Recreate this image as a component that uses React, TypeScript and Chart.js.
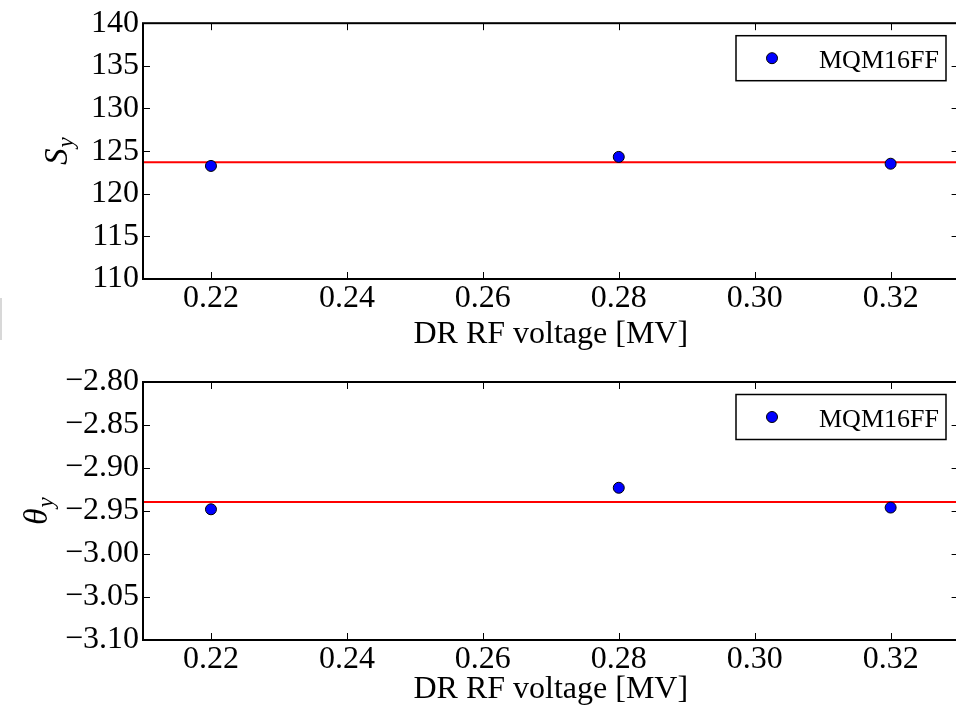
import React, { useEffect, useRef } from "react";
import { Chart, registerables } from "chart.js";

Chart.register(...registerables);

// ---- data ----
const xValues = [0.22, 0.28, 0.32];
const syValues = [123.26, 124.32, 123.52];
const thetaValues = [-2.948, -2.923, -2.946];
const syMean = 123.68;
const thetaMean = -2.9395;
const xRange = [0.21, 0.33];
const xTicks = [0.22, 0.24, 0.26, 0.28, 0.3, 0.32];
const syTicks = [110, 115, 120, 125, 130, 135, 140];
const thetaTicks = [-3.1, -3.05, -3.0, -2.95, -2.9, -2.85, -2.8];
const seriesLabel = "MQM16FF";
const xTitle = "DR RF voltage [MV]";

const SERIF = "'Liberation Serif', 'Times New Roman', serif";

type PanelSpec = {
  values: number[];
  mean: number;
  yTicks: number[];
  yDecimals: number;
  yMain: string;
  canvasH: number;
  areaTop: number;
  areaBottom: number;
  yTitleBaseline: number;
};

const CANVAS_W = 972;
const AREA_LEFT = 143;
const AREA_RIGHT = 958.6;

function fmt(v: number, d: number) {
  const s = Math.abs(v).toFixed(d);
  return v < 0 ? "\u2212" + s : s;
}

function makeDecor(spec: PanelSpec) {
  return {
    id: "decor",
    afterDraw(chart: any) {
      const ctx = chart.ctx as CanvasRenderingContext2D;
      const a = chart.chartArea;
      const xs = chart.scales.x;
      const ys = chart.scales.y;
      ctx.save();
      // inward ticks
      ctx.strokeStyle = "#000";
      ctx.lineWidth = 1;
      const TL = 7;
      ctx.beginPath();
      for (const v of xTicks) {
        const px = Math.round(xs.getPixelForValue(v)) + 0.5;
        ctx.moveTo(px, a.bottom);
        ctx.lineTo(px, a.bottom - TL);
        ctx.moveTo(px, a.top);
        ctx.lineTo(px, a.top + TL);
      }
      for (const v of spec.yTicks) {
        const py = Math.round(ys.getPixelForValue(v)) + 0.5;
        ctx.moveTo(a.left, py);
        ctx.lineTo(a.left + TL, py);
        ctx.moveTo(a.right, py);
        ctx.lineTo(a.right - TL, py);
      }
      ctx.stroke();
      // spines
      ctx.lineWidth = 2;
      ctx.strokeRect(a.left, a.top, a.right - a.left, a.bottom - a.top);

      // legend
      const bw = 210;
      const bh = 45;
      const bx = a.right - 12.6 - bw;
      const by = a.top + 12.5;
      ctx.fillStyle = "#fff";
      ctx.fillRect(bx, by, bw, bh);
      ctx.lineWidth = 1.5;
      ctx.strokeRect(bx, by, bw, bh);
      ctx.beginPath();
      ctx.arc(bx + 36, by + bh / 2, 5.5, 0, Math.PI * 2);
      ctx.fillStyle = "#0000ff";
      ctx.fill();
      ctx.lineWidth = 1;
      ctx.strokeStyle = "#000";
      ctx.stroke();
      ctx.fillStyle = "#000";
      ctx.font = "26px " + SERIF;
      ctx.textAlign = "left";
      ctx.textBaseline = "alphabetic";
      ctx.fillText(seriesLabel, bx + 83, by + bh / 2 + 9.5);

      // y-axis title (rotated, with subscript)
      const cy = (a.top + a.bottom) / 2;
      ctx.translate(spec.yTitleBaseline, cy);
      ctx.rotate(-Math.PI / 2);
      ctx.font = "italic 33px " + SERIF;
      const wMain = ctx.measureText(spec.yMain).width;
      ctx.font = "italic 23px " + SERIF;
      const wSub = ctx.measureText("y").width;
      const total = wMain + wSub + 1;
      ctx.font = "italic 33px " + SERIF;
      ctx.fillText(spec.yMain, -total / 2, 0);
      ctx.font = "italic 23px " + SERIF;
      ctx.fillText("y", -total / 2 + wMain + 1, 6);
      ctx.restore();
    },
  };
}

function Panel({ spec }: { spec: PanelSpec }) {
  const ref = useRef<HTMLCanvasElement | null>(null);
  useEffect(() => {
    if (!ref.current) return;
    const yMin = spec.yTicks[0];
    const yMax = spec.yTicks[spec.yTicks.length - 1];
    const chart = new Chart(ref.current, {
      type: "scatter",
      data: {
        datasets: [
          {
            label: seriesLabel,
            data: xValues.map((x, i) => ({ x, y: spec.values[i] })),
            backgroundColor: "#0000ff",
            borderColor: "#000",
            borderWidth: 1,
            pointRadius: 5.5,
          },
          {
            type: "line",
            label: "mean",
            data: [
              { x: xRange[0], y: spec.mean },
              { x: xRange[1], y: spec.mean },
            ],
            borderColor: "#ff0000",
            borderWidth: 2,
            pointRadius: 0,
            showLine: true,
            fill: false,
          } as any,
        ],
      },
      options: {
        responsive: false,
        animation: false,
        devicePixelRatio: 1,
        layout: {
          padding: {
            left: 0,
            top: spec.areaTop,
            right: CANVAS_W - AREA_RIGHT,
            bottom: 0,
          },
        },
        plugins: {
          legend: { display: false },
          tooltip: { enabled: false },
          title: { display: false },
        },
        scales: {
          x: {
            type: "linear",
            min: xRange[0],
            max: xRange[1],
            grid: { display: false, drawTicks: false },
            border: { display: false },
            ticks: {
              padding: 0,
              color: "#000",
              font: { family: SERIF, size: 32 },
              callback: (v: any) => fmt(Number(v), 2),
            },
            afterBuildTicks: (s: any) => {
              s.ticks = xTicks.map((v) => ({ value: v }));
            },
            afterFit: (s: any) => {
              s.height = spec.canvasH - spec.areaBottom;
            },
            title: {
              display: true,
              text: xTitle,
              color: "#000",
              font: { family: SERIF, size: 32 },
              padding: { top: 0, bottom: 0 },
            },
          },
          y: {
            type: "linear",
            min: yMin,
            max: yMax,
            grid: { display: false, drawTicks: false },
            border: { display: false },
            ticks: {
              padding: 4,
              color: "#000",
              font: { family: SERIF, size: 32 },
              callback: (v: any) => fmt(Number(v), spec.yDecimals),
            },
            afterBuildTicks: (s: any) => {
              s.ticks = spec.yTicks.map((v) => ({ value: v }));
            },
            afterFit: (s: any) => {
              s.width = AREA_LEFT;
            },
          },
        },
      },
      plugins: [makeDecor(spec)],
    });
    return () => chart.destroy();
  }, [spec]);
  return (
    <canvas
      ref={ref}
      width={CANVAS_W}
      height={spec.canvasH}
      style={{ display: "block", width: CANVAS_W, height: spec.canvasH }}
    />
  );
}

const topSpec: PanelSpec = {
  values: syValues,
  mean: syMean,
  yTicks: syTicks,
  yDecimals: 0,
  yMain: "S",
  canvasH: 354,
  areaTop: 21,
  areaBottom: 279,
  yTitleBaseline: 67,
};

const bottomSpec: PanelSpec = {
  values: thetaValues,
  mean: thetaMean,
  yTicks: thetaTicks,
  yDecimals: 2,
  yMain: "\u03b8",
  canvasH: 355,
  areaTop: 28,
  areaBottom: 286,
  yTitleBaseline: 47,
};

export default function App() {
  return (
    <div
      style={{
        position: "fixed",
        left: 0,
        top: 0,
        width: 956,
        height: 709,
        overflow: "hidden",
        background: "#fff",
      }}
    >
      <Panel spec={topSpec} />
      <Panel spec={bottomSpec} />
      <div
        style={{
          position: "absolute",
          left: 0,
          top: 298,
          width: 2,
          height: 42,
          background: "#d8d8d8",
        }}
      />
    </div>
  );
}
